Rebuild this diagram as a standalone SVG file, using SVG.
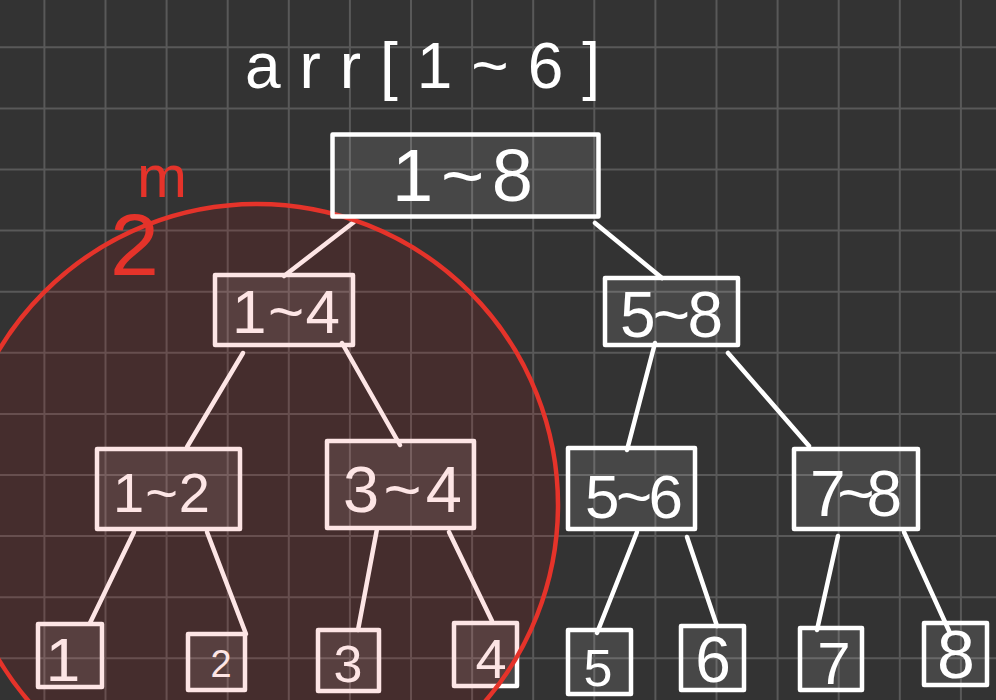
<svg xmlns="http://www.w3.org/2000/svg" width="996" height="700" viewBox="0 0 996 700">
<style>
.bg{fill:#333333}
.grid{stroke:#595959;stroke-width:2;fill:none}
.box{fill:#ffffff;fill-opacity:0.1;stroke:#ffffff;stroke-width:4.5;stroke-linejoin:round}
.edge{stroke:#ffffff;stroke-width:4.5;stroke-linecap:round;fill:none}
.lbl{fill:#ffffff;font-family:"Liberation Sans","DejaVu Sans",sans-serif}
.red{fill:#e5332a;font-family:"Liberation Sans","DejaVu Sans",sans-serif}
</style>
<rect class="bg" x="0" y="0" width="996" height="700"/>
<path class="grid" d="M44.4 0V700M105.5 0V700M166.6 0V700M227.7 0V700M288.8 0V700M349.9 0V700M411 0V700M472.1 0V700M533.2 0V700M594.3 0V700M655.4 0V700M716.5 0V700M777.6 0V700M838.7 0V700M899.8 0V700M960.9 0V700M0 47.3H996M0 108.4H996M0 169.5H996M0 230.6H996M0 291.7H996M0 352.8H996M0 413.9H996M0 475H996M0 536.1H996M0 597.2H996M0 658.3H996"/>
<text class="lbl" x="245" y="88" font-size="64" textLength="355" lengthAdjust="spacing">arr[1~6]</text>
<g id="connectors">
<line class="edge" x1="354" y1="222" x2="284" y2="276"/>
<line class="edge" x1="595" y1="223" x2="662" y2="278"/>
<line class="edge" x1="243" y1="353" x2="187" y2="447"/>
<line class="edge" x1="342" y1="343" x2="400" y2="445"/>
<line class="edge" x1="655" y1="343" x2="627" y2="450"/>
<line class="edge" x1="728" y1="353" x2="809" y2="446"/>
<line class="edge" x1="134" y1="532" x2="90" y2="623"/>
<line class="edge" x1="207" y1="532" x2="246" y2="634"/>
<line class="edge" x1="377" y1="529" x2="358" y2="630"/>
<line class="edge" x1="449" y1="532" x2="492" y2="621"/>
<line class="edge" x1="637" y1="532" x2="597" y2="633"/>
<line class="edge" x1="687" y1="537" x2="717" y2="626"/>
<line class="edge" x1="838" y1="536" x2="817" y2="630"/>
<line class="edge" x1="904" y1="532" x2="950" y2="633"/>
</g>
<g id="n1-4"><rect class="box" x="215" y="275" width="138" height="70"/><text class="lbl" x="232" y="333" font-size="62" textLength="108" lengthAdjust="spacing">1~4</text></g>
<g id="n5-8"><rect class="box" x="605" y="278" width="133" height="67"/><text class="lbl" x="620" y="337" font-size="64" textLength="103" lengthAdjust="spacing">5~8</text></g>
<g id="n1-2"><rect class="box" x="97" y="449" width="143" height="80"/><text class="lbl" x="113" y="512" font-size="56" textLength="97" lengthAdjust="spacing">1~2</text></g>
<g id="n3-4"><rect class="box" x="327" y="441" width="147" height="87"/><text class="lbl" x="343" y="512" font-size="65" textLength="119" lengthAdjust="spacing">3~4</text></g>
<g id="n5-6"><rect class="box" x="568" y="448" width="127" height="81"/><text class="lbl" x="585" y="518" font-size="62" textLength="98" lengthAdjust="spacing">5~6</text></g>
<g id="n7-8"><rect class="box" x="794" y="449" width="124" height="80"/><text class="lbl" x="810" y="516" font-size="64" textLength="92" lengthAdjust="spacing">7~8</text></g>
<g id="l1"><rect class="box" x="38" y="624" width="64" height="63"/><text class="lbl" x="63" y="681" font-size="62" text-anchor="middle">1</text></g>
<g id="l2"><rect class="box" x="188" y="634" width="57" height="56"/><text class="lbl" x="221" y="677" font-size="38" text-anchor="middle">2</text></g>
<g id="l3"><rect class="box" x="318" y="630" width="61" height="61"/><text class="lbl" x="348" y="682" font-size="52" text-anchor="middle">3</text></g>
<g id="l4"><rect class="box" x="454" y="623" width="63" height="63"/><text class="lbl" x="491" y="678" font-size="56" text-anchor="middle">4</text></g>
<g id="l5"><rect class="box" x="568" y="630" width="63" height="64"/><text class="lbl" x="598" y="686" font-size="52" text-anchor="middle">5</text></g>
<g id="l6"><rect class="box" x="681" y="626" width="63" height="64"/><text class="lbl" x="713" y="682" font-size="64" text-anchor="middle">6</text></g>
<g id="l7"><rect class="box" x="800" y="628" width="62" height="62"/><text class="lbl" x="834" y="684" font-size="60" text-anchor="middle">7</text></g>
<g id="l8"><rect class="box" x="924" y="623" width="63" height="62"/><text class="lbl" x="956" y="678" font-size="68" text-anchor="middle">8</text></g>
<g id="highlight">
<circle cx="257" cy="505" r="301" fill="#e70000" fill-opacity="0.1" stroke="#e5332a" stroke-width="4.5"/>
<text class="red" x="110" y="275" font-size="88">2<tspan x="137" y="197" font-size="60">m</tspan></text>
</g>
<g id="n1-8"><rect class="box" x="332.5" y="134.5" width="266" height="82" stroke-width="5"/><text class="lbl" x="392" y="201" font-size="74" textLength="141" lengthAdjust="spacing">1~8</text></g>
</svg>
